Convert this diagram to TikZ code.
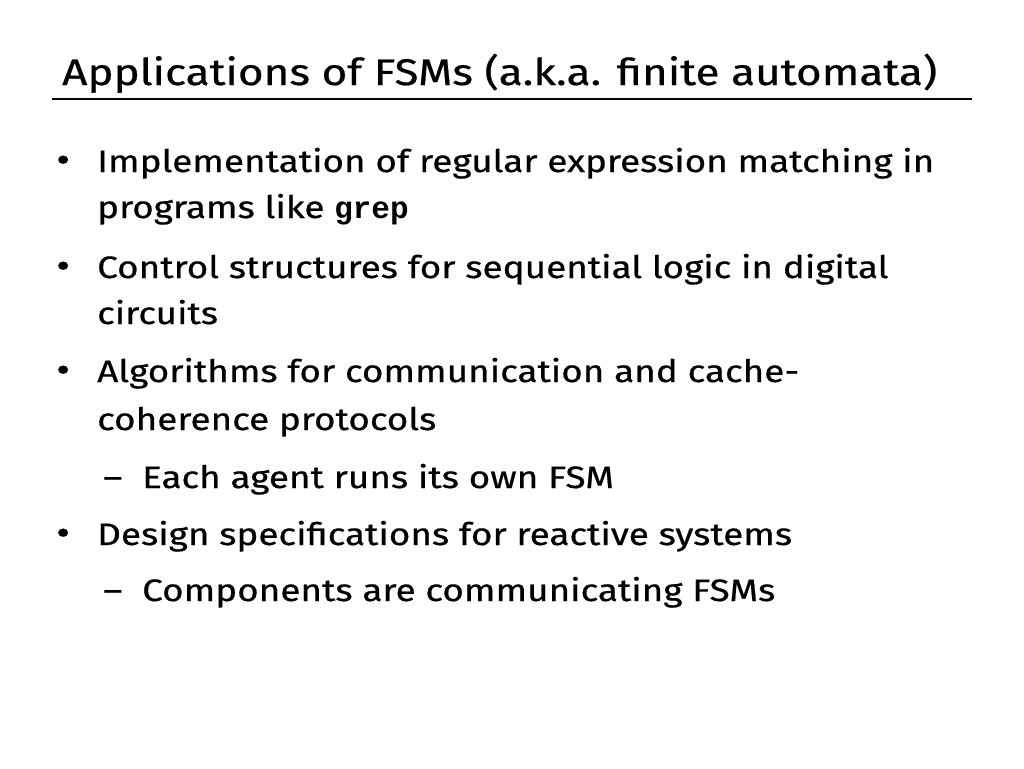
\documentclass[tikz,border=0pt]{standalone}
\usepackage{fontspec}
\setmainfont{Fira Sans}[FakeBold=0.6,FakeStretch=1.19]
\setmonofont{Liberation Mono}
\begin{document}
\begin{tikzpicture}[x=1pt,y=-1pt,
  body/.style={anchor=base west,inner sep=0pt,font=\fontsize{31}{36}\selectfont},
  blt/.style={anchor=base west,inner sep=0pt,font=\fontsize{36}{36}\selectfont},
  ttl/.style={anchor=base west,inner sep=0pt,font=\fontsize{37}{42}\selectfont}]
\useasboundingbox (0,0) rectangle (1024,768);
\node[ttl] (t) at (62,85) {Applications of FSMs (a.k.a. finite automata)};
\draw[line width=2pt] (52,99) -- (972,99);
\node[blt] (b1) at (56,172) {•};
\node[body] (l1) at (97,172) {Implementation of regular expression matching in};
\node[body] (l2) at (97,218) {programs like \textbf{\texttt{grep}}};
\node[blt] (b2) at (56,278) {•};
\node[body] (l3) at (97,278) {Control structures for sequential logic in digital};
\node[body] (l4) at (97,324) {circuits};
\node[blt] (b3) at (56,382) {•};
\node[body] (l5) at (97,382) {Algorithms for communication and cache-};
\node[body] (l6) at (97,430) {coherence protocols};
\node[body] (d1) at (103,488) {–};
\node[body] (l7) at (142,488) {Each agent runs its own FSM};
\node[blt] (b4) at (56,545) {•};
\node[body] (l8) at (97,545) {Design specifications for reactive systems};
\node[body] (d2) at (103,601) {–};
\node[body] (l9) at (142,601) {Components are communicating FSMs};
\end{tikzpicture}
\end{document}
